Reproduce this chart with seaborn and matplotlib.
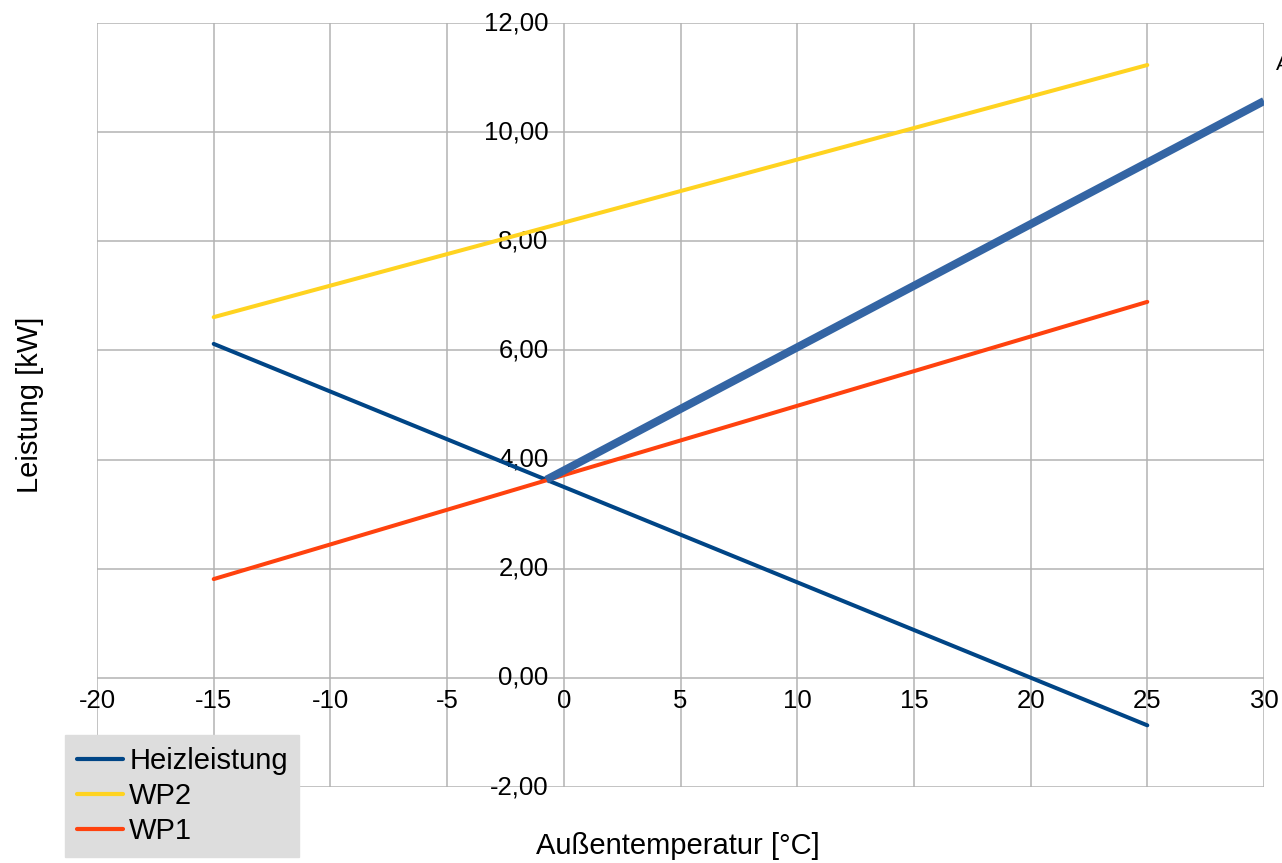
import matplotlib
matplotlib.use("Agg")
import matplotlib.pyplot as plt
import matplotlib.ticker as mticker
import numpy as np
import pandas as pd
import seaborn as sns

# Outdoor temperature range of the curves [°C]
temp = [-15, 25]

# Power curves [kW]
heizleistung = [6.12, -0.87]
wp2 = [6.61, 11.23]
wp1 = [1.81, 6.89]

# Highlight line from the balance point upward
pfeil_x = [-0.75, 30]
pfeil_y = [3.63, 10.57]

x_ticks = list(range(-20, 31, 5))
y_ticks = list(range(-2, 13, 2))

sns.set_theme(style="whitegrid")
plt.rcParams["font.family"] = ["Liberation Sans", "DejaVu Sans"]
plt.rcParams["text.color"] = "black"

fig = plt.figure(figsize=(12.82, 8.63), dpi=100)
ax = fig.add_axes([97 / 1282, 1 - 787 / 863, (1264 - 97) / 1282, (787 - 23) / 863])

df = pd.DataFrame({
    "temp": temp * 3,
    "kw": heizleistung + wp2 + wp1,
    "serie": ["Heizleistung"] * 2 + ["WP2"] * 2 + ["WP1"] * 2,
})
palette = {"Heizleistung": "#004586", "WP2": "#ffd320", "WP1": "#ff420e"}
sns.lineplot(data=df, x="temp", y="kw", hue="serie", palette=palette,
             linewidth=2.9, ax=ax, legend=False, sort=False)
ax.plot(pfeil_x, pfeil_y, color="#3465a4", linewidth=5.8, solid_capstyle="butt",
        zorder=5)

ax.set_xlim(-20, 30)
ax.set_ylim(-2, 12)
ax.set_xticks(x_ticks)
ax.set_yticks(y_ticks)
ax.yaxis.set_major_formatter(mticker.FuncFormatter(lambda v, p: f"{v:.2f}".replace(".", ",")))
ax.xaxis.set_major_formatter(mticker.FuncFormatter(lambda v, p: f"{int(v)}"))

# Axes cross at the origin; labels sit next to the zero lines
ax.spines["left"].set_position(("data", 0))
ax.spines["bottom"].set_position(("data", 0))
for s in ax.spines.values():
    s.set_visible(False)
ax.grid(True, color="#b3b3b3", linewidth=1.1)
ax.set_facecolor("white")
ax.tick_params(axis="both", length=0, labelsize=18.5, colors="#000000")
ax.tick_params(axis="x", pad=8)
ax.tick_params(axis="y", pad=11)
for lbl in ax.get_yticklabels():
    lbl.set_verticalalignment("center")
ax.set_xlabel("")
ax.set_ylabel("")

fig.text(30 / 1282, 1 - 405 / 863, "Leistung [kW]", rotation=90, ha="center",
         va="center", fontsize=21, color="black")
fig.text(678 / 1282, 1 - 846 / 863, "Außentemperatur [°C]", ha="center",
         va="center", fontsize=21, color="black")
fig.text(1276 / 1282, 1 - 65 / 863, "A", ha="left", va="center", fontsize=15,
         color="black")

handles = [plt.Line2D([], [], color=palette[k], linewidth=3) for k in palette]
leg = fig.legend(handles, list(palette.keys()), loc="lower left",
                 bbox_to_anchor=(65 / 1282, 1 - 857 / 863), fontsize=21,
                 frameon=True, fancybox=False, framealpha=1, facecolor="#dddddd",
                 edgecolor="#dddddd", handlelength=1.6, handletextpad=0.2,
                 labelspacing=0.25, borderpad=0.4, borderaxespad=0,
                 labelcolor="black")

fig.savefig("out.png", dpi=100, facecolor="white")
